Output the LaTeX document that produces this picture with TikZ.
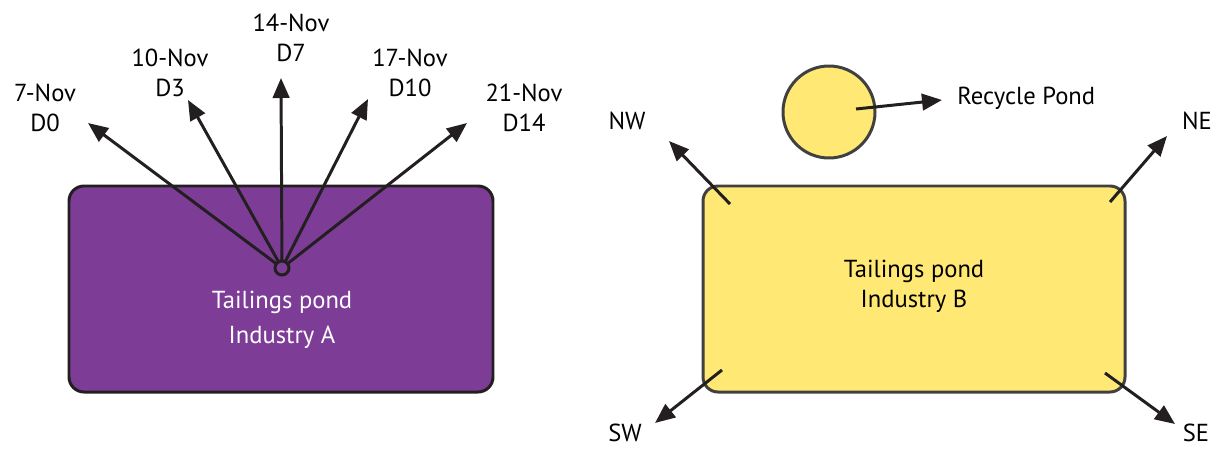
\documentclass[tikz,border=0pt]{standalone}
\usepackage{fontspec}
\setmainfont{PT Sans}
\usetikzlibrary{arrows.meta}
\definecolor{pondpurple}{RGB}{125,61,151}
\definecolor{pondyellow}{RGB}{255,232,116}
\definecolor{inkdark}{RGB}{35,31,32}
\tikzset{
  ray/.style={line width=1.7pt, color=inkdark, -{Triangle[length=0.4cm,width=0.33cm]}},
  lbl/.style={font=\fontsize{14}{17}\selectfont, inner sep=0pt, align=center}
}

\begin{document}
\begin{tikzpicture}[x=0.02cm, y=-0.02cm]
			%%%%% START %%%%%
			\useasboundingbox (0,0) rectangle (1227,450);
			
			% pond A
			\draw[fill=pondpurple, draw=inkdark, line width=1.7pt, rounded corners=0.3cm] (69,186) rectangle (493,392);
			\node[lbl, text=white] (pondA) at (282,320) {Tailings pond\\[3pt]Industry A};
			\coordinate (src) at (282,268);
			
			\coordinate (d0) at (88,123);
			\coordinate (d3) at (188,100);
			\coordinate (d7) at (281,78);
			\coordinate (d10) at (368,99);
			\coordinate (d14) at (467,123);
			\draw[ray] (src) -- (d0);
			\draw[ray] (src) -- (d3);
			\draw[ray] (src) -- (d7);
			\draw[ray] (src) -- (d10);
			\draw[ray] (src) -- (d14);
			\draw[line width=1.7pt, draw=inkdark, fill=pondpurple] (src) circle (7);
			
			\node[lbl] (l0) at (45,108) {7-Nov\\D0};
			\node[lbl] (l3) at (170,73) {10-Nov\\D3};
			\node[lbl] (l7) at (291,38) {14-Nov\\D7};
			\node[lbl] (l10) at (410,73) {17-Nov\\D10};
			\node[lbl] (l14) at (524,108) {21-Nov\\D14};
			
			% pond B
			\draw[fill=pondyellow, draw=black!75, line width=1.7pt, rounded corners=0.3cm] (703,186) rectangle (1125,392);
			\node[lbl] (pondB) at (914,286) {Tailings pond\\Industry B};
			
			\draw[fill=pondyellow, draw=black!75, line width=1.7pt] (829,112) circle (46);
			\coordinate (rp) at (856,109);
			\node[lbl, anchor=west] (rplbl) at (957,98) {Recycle Pond};
			\draw[ray] (rp) -- (942,100);
			
			\coordinate (nwfoot) at (730,204);
			\coordinate (nefoot) at (1110,202);
			\coordinate (swfoot) at (722,370);
			\coordinate (sefoot) at (1105,373);
			\node[lbl] (nw) at (627,121) {NW};
			\node[lbl] (ne) at (1197,121) {NE};
			\node[lbl] (sw) at (625,433) {SW};
			\node[lbl] (se) at (1196,433) {SE};
			\draw[ray] (nwfoot) -- (669,141);
			\draw[ray] (nefoot) -- (1167,136);
			\draw[ray] (swfoot) -- (655,423);
			\draw[ray] (sefoot) -- (1175,424);
			%%%%% END %%%%%
\end{tikzpicture}
\end{document}
